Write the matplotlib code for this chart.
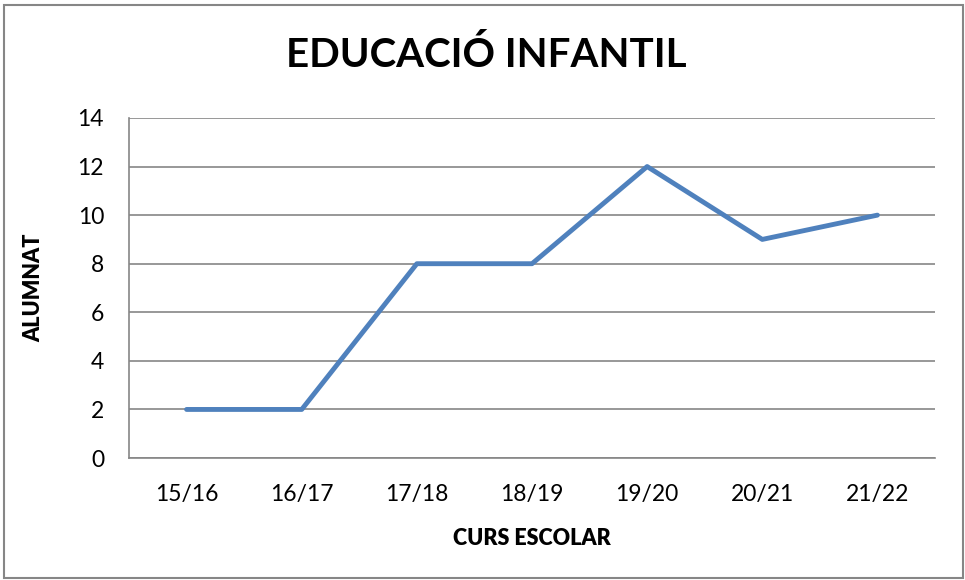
import matplotlib
matplotlib.use("Agg")
import matplotlib.pyplot as plt
from matplotlib.patches import Rectangle

cursos = ['15/16', '16/17', '17/18', '18/19', '19/20', '20/21', '21/22']
alumnat = [2, 2, 8, 8, 12, 9, 10]

plt.rcParams['font.family'] = ['Lato', 'DejaVu Sans']

fig = plt.figure(figsize=(9.65, 5.8), dpi=100)
ax = fig.add_axes([0.1337, 0.2103, 0.8352, 0.5863])

x = range(len(cursos))
ax.plot(x, alumnat, color='#4F81BD', linewidth=3.5, solid_capstyle='round', zorder=3)

ax.set_xlim(-0.5, len(cursos) - 0.5)
ax.set_ylim(0, 14)
ax.set_yticks(range(0, 15, 2))
ax.set_xticks(list(x))
ax.set_xticklabels(cursos)
ax.tick_params(axis='both', length=0, labelsize=16.5, colors='black')
ax.tick_params(axis='x', pad=19)
ax.tick_params(axis='y', pad=18)
ax.grid(axis='y', color='#868686', linewidth=1.2)
ax.set_axisbelow(True)
for s in ['top', 'right']:
    ax.spines[s].set_visible(False)
for s in ['left', 'bottom']:
    ax.spines[s].set_color('#868686')
    ax.spines[s].set_linewidth(1.2)

ax.set_xlabel('CURS ESCOLAR', fontsize=15.5, fontweight='heavy', labelpad=16)
ax.set_ylabel('ALUMNAT', fontsize=15.5, fontweight='heavy', labelpad=24)
fig.text(0.504, 0.905, 'EDUCACIÓ INFANTIL', ha='center', va='center',
         fontsize=29, fontweight='bold')

fig.patches.append(Rectangle((0.004, 0.003), 0.994, 0.988, transform=fig.transFigure,
                             fill=False, edgecolor='#868686', linewidth=1.5))

fig.savefig('out.png', dpi=100)
